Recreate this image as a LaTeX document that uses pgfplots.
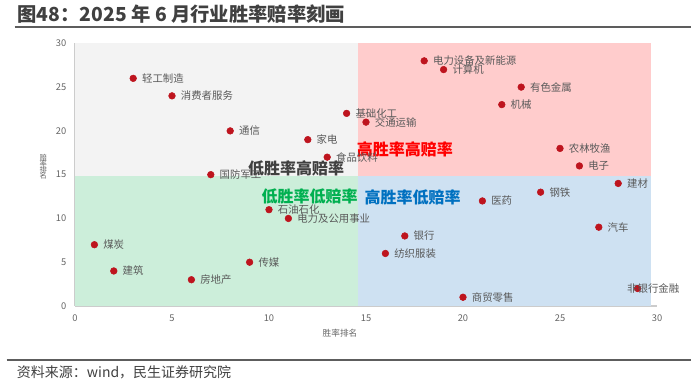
\documentclass[border=0pt]{standalone}
\usepackage{pgfplots}
\pgfplotsset{compat=1.18}
\usepackage{fontspec}
\setmainfont{Noto Sans CJK SC}
\definecolor{bggray}{RGB}{243,243,243}
\definecolor{bgred}{RGB}{255,204,204}
\definecolor{bggreen}{RGB}{204,238,218}
\definecolor{bgblue}{RGB}{206,225,242}
\definecolor{ptred}{RGB}{190,20,30}
\definecolor{lblgray}{RGB}{89,89,89}
\definecolor{tickgray}{RGB}{100,100,100}
\definecolor{qgreen}{RGB}{0,176,80}
\definecolor{qblue}{RGB}{0,112,192}
\definecolor{qred}{RGB}{255,0,0}
\definecolor{qgray}{RGB}{64,64,64}
\begin{document}
\begin{tikzpicture}
\path (0,0) rectangle (525pt,-288pt);
% title
\node[anchor=west,text=qgray,font=\fontsize{14.5}{16}\selectfont\bfseries,inner sep=0pt] at (13pt,-10.5pt) {图48：2025 年 6 月行业胜率赔率刻画};
\draw[line width=1.1pt,color=qgray!85] (11pt,-20.25pt) -- (518pt,-20.25pt);
% footer
\draw[line width=1.1pt,color=qgray!85] (5pt,-270pt) -- (518pt,-270pt);
\node[anchor=west,text=qgray,font=\fontsize{10.5}{12}\selectfont,inner sep=0pt] at (12.5pt,-279.5pt) {资料来源：wind，民生证券研究院};
\begin{axis}[
  at={(56.25pt,-229.5pt)}, anchor=south west,
  scale only axis, width=436.5pt, height=197pt,
  xmin=0, xmax=30, ymin=0, ymax=30,
  xtick={0,5,...,30}, ytick={0,5,...,30},
  axis line style={draw=gray!40, line width=0.8pt},
  axis x line*=bottom, axis y line*=left,
  major tick length=0pt,
  tick label style={font=\fontsize{7}{8}\selectfont, text=tickgray},
  /pgf/number format/assume math mode=true,
  xticklabel style={yshift=-3pt},
  yticklabel style={xshift=-3pt},
  clip=false,
  axis on top=false,
]
\addplot[fill=bggray, draw=none] coordinates {(0,14.9) (14.6,14.9) (14.6,30) (0,30)} -- cycle;
\addplot[fill=bgred, draw=none] coordinates {(14.6,14.9) (29.7,14.9) (29.7,30) (14.6,30)} -- cycle;
\addplot[fill=bggreen, draw=none] coordinates {(0,0) (14.6,0) (14.6,14.9) (0,14.9)} -- cycle;
\addplot[fill=bgblue, draw=none] coordinates {(14.6,0) (29.7,0) (29.7,14.9) (14.6,14.9)} -- cycle;

\addplot[only marks, mark=*, mark size=2.5pt, color=ptred,
  point meta=explicit symbolic,
  nodes near coords,
  nodes near coords style={anchor=west, xshift=6.5pt, text=lblgray, font=\fontsize{7.8}{9}\selectfont, inner sep=0pt}]
table[meta=label, row sep=\\] {
x y label\\
3 26 轻工制造\\
5 24 消费者服务\\
8 20 通信\\
12 19 家电\\
13 17 食品饮料\\
14 22 基础化工\\
15 21 交通运输\\
7 15 国防军工\\
18 28 电力设备及新能源\\
19 27 计算机\\
23 25 有色金属\\
22 23 机械\\
25 18 农林牧渔\\
26 16 电子\\
28 14 建材\\
24 13 钢铁\\
21 12 医药\\
27 9 汽车\\
17 8 银行\\
16 6 纺织服装\\
20 1 商贸零售\\
10 11 石油石化\\
11 10 电力及公用事业\\
1 7 煤炭\\
2 4 建筑\\
6 3 房地产\\
9 5 传媒\\
};
\addplot[only marks, mark=*, mark size=2.5pt, color=ptred,
  point meta=explicit symbolic,
  nodes near coords,
  nodes near coords style={anchor=west, xshift=-8pt, text=lblgray, font=\fontsize{7.8}{9}\selectfont, inner sep=0pt}]
table[meta=label, row sep=\\] {
x y label\\
29 2 非银行金融\\
};

\node[text=qgray, font=\fontsize{12}{14}\selectfont\bfseries, inner sep=0pt] at (axis cs:11.4,15.7) {低胜率高赔率};
\node[text=qred, font=\fontsize{12}{14}\selectfont\bfseries, inner sep=0pt] at (axis cs:17.0,17.9) {高胜率高赔率};
\node[text=qgreen, font=\fontsize{12}{14}\selectfont\bfseries, inner sep=0pt] at (axis cs:12.1,12.5) {低胜率低赔率};
\node[text=qblue, font=\fontsize{12}{14}\selectfont\bfseries, inner sep=0pt] at (axis cs:17.4,12.4) {高胜率低赔率};
\end{axis}
\node[text=tickgray, font=\fontsize{6.5}{7}\selectfont, inner sep=0pt] at (255pt,-250pt) {胜率排名};
\begin{scope}[every node/.style={text=tickgray, font=\fontsize{5.5}{6}\selectfont, inner sep=0pt}]
\node at (32.5pt,-118.5pt) {赔};
\node at (32.5pt,-123pt) {率};
\node at (32.5pt,-127.5pt) {排};
\node at (32.5pt,-132pt) {名};
\end{scope}
\end{tikzpicture}
\end{document}
